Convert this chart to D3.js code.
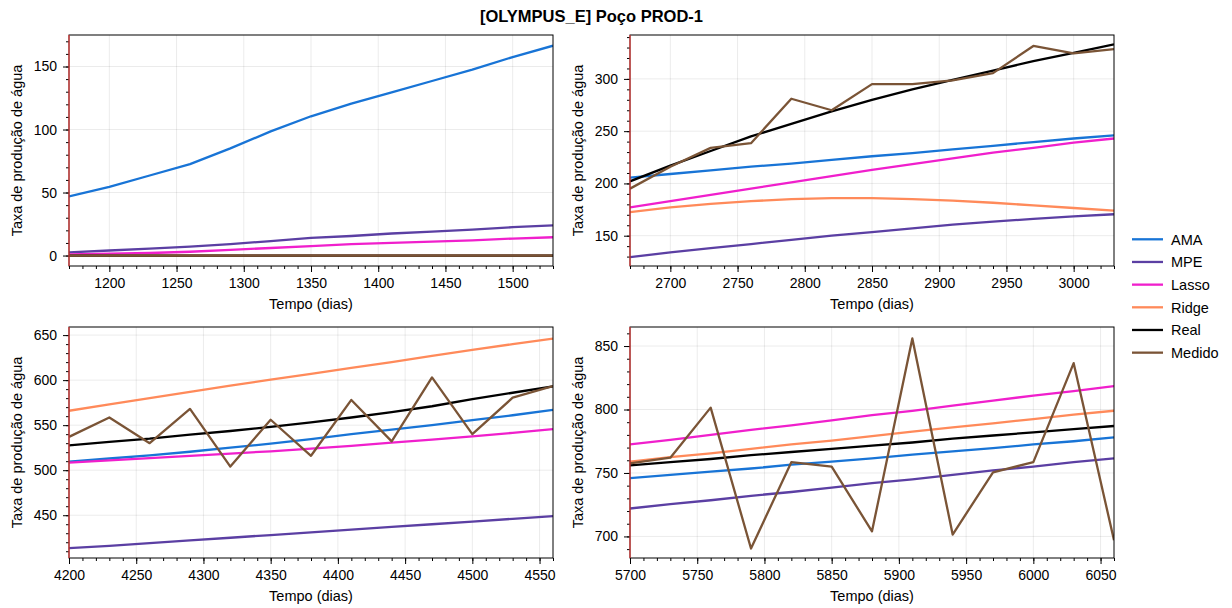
<!DOCTYPE html>
<html>
<head>
<meta charset="utf-8">
<script src="https://cdn.jsdelivr.net/npm/d3@7"></script>
<style>
  body { margin: 0; background: #fff; }
  svg { font-family: "Liberation Sans", Arial, Helvetica, sans-serif; }
</style>
</head>
<body>
<div id="chart"></div>
<script>
// series
const seriesNames = ["AMA", "MPE", "Lasso", "Ridge", "Real", "Medido"];
const seriesColors = ["#1874d6", "#5b3fa3", "#f01fcc", "#ff8a5a", "#000000", "#7a5436"];

// panel 1
const days1 = [1170, 1200, 1230, 1260, 1290, 1320, 1350, 1380, 1410, 1440, 1470, 1500, 1530];
const ama1 = [47, 54.5, 63.5, 72.5, 85, 98.5, 110.5, 120.5, 129.5, 138.5, 147.5, 157.5, 166.5];
const mpe1 = [2.5, 4, 5.5, 7, 9, 11.5, 14, 15.5, 17.5, 19, 20.5, 22.5, 24];
const lasso1 = [1, 1.5, 2, 3, 4.5, 6, 7.5, 9, 10, 11, 12, 13.5, 14.5];
const ridge1 = [0, 0, 0, 0, 0, 0, 0, 0, 0, 0, 0, 0, 0];
const real1 = [0, 0, 0, 0, 0, 0, 0, 0, 0, 0, 0, 0, 0];
const medido1 = [0, 0, 0, 0, 0, 0, 0, 0, 0, 0, 0, 0, 0];
const xTicks1 = [1200, 1250, 1300, 1350, 1400, 1450, 1500];
const yTicks1 = [0, 50, 100, 150];

// panel 2
const days2 = [2670, 2700, 2730, 2760, 2790, 2820, 2850, 2880, 2910, 2940, 2970, 3000, 3030];
const ama2 = [205.5, 209, 212.5, 216, 219, 222.5, 226, 229, 232.5, 236, 239.5, 243, 246];
const mpe2 = [129.5, 134, 138, 142, 146, 150, 153.5, 157, 160.5, 163.5, 166, 168.5, 170.5];
const lasso2 = [177, 183, 189, 195, 201, 207, 213, 218.5, 224, 229.5, 234, 239, 243];
const ridge2 = [172.5, 177, 180.5, 183, 185, 186, 186, 185, 183.5, 181.5, 179, 176.5, 174];
const real2 = [202, 217, 231, 245, 257, 269, 280, 290, 299, 308, 317, 325, 333];
const medido2 = [195, 216, 234, 238.5, 281, 270, 295, 295, 298.5, 305.5, 331.5, 324.5, 328.5];
const xTicks2 = [2700, 2750, 2800, 2850, 2900, 2950, 3000];
const yTicks2 = [150, 200, 250, 300];

// panel 3
const days3 = [4200, 4230, 4260, 4290, 4320, 4350, 4380, 4410, 4440, 4470, 4500, 4530, 4560];
const ama3 = [509.5, 513, 516.5, 520.5, 525, 529.5, 534.5, 540, 545, 550, 555.5, 561, 567];
const mpe3 = [413.5, 416, 419, 422, 425, 428, 431, 434, 437, 440, 443, 446, 449];
const lasso3 = [508.5, 511, 513.5, 516, 518.5, 521, 524, 527, 530.5, 534, 537.5, 541.5, 545.5];
const ridge3 = [566, 573, 580, 587, 594, 600.5, 607, 613.5, 620, 627, 633.5, 640, 646];
const real3 = [527.5, 531.5, 535, 539.5, 543.5, 548, 553, 558.5, 564.5, 571, 579, 586, 593];
const medido3 = [537, 558.5, 530, 568, 504, 556, 516, 578, 532, 603, 540, 580.5, 593.5];
const xTicks3 = [4200, 4250, 4300, 4350, 4400, 4450, 4500, 4550];
const yTicks3 = [450, 500, 550, 600, 650];

// panel 4
const days4 = [5700, 5730, 5760, 5790, 5820, 5850, 5880, 5910, 5940, 5970, 6000, 6030, 6060];
const ama4 = [746, 748.5, 751, 753.5, 756.5, 759, 761.5, 764.5, 767, 769.5, 772.5, 775, 778];
const mpe4 = [722, 725.5, 728.5, 732, 735, 738.5, 742, 745, 748.5, 752, 755, 758.5, 761.5];
const lasso4 = [772.5, 776, 780, 784, 787.5, 791.5, 795.5, 799, 803, 807, 811, 814.5, 818.5];
const ridge4 = [759, 762.5, 765.5, 769, 772.5, 775.5, 779, 782.5, 786, 789, 792.5, 796, 799];
const real4 = [756, 758.5, 761, 764, 766.5, 769, 771.5, 774, 777, 779.5, 782, 784.5, 787];
const medido4 = [757.5, 762, 801.5, 690.5, 758.5, 755, 704, 856, 701.5, 750.5, 758.5, 836.5, 697];
const xTicks4 = [5700, 5750, 5800, 5850, 5900, 5950, 6000, 6050];
const yTicks4 = [700, 750, 800, 850];

const titleText = "[OLYMPUS_E] Poço PROD-1";
const xLabel = "Tempo (dias)";
const yLabel = "Taxa de produção de água";

const settings = {
  width: 1232,
  height: 608,
  panelW: 484,
  panelH: 231,
  cols: [69, 630],
  rows: [35, 327],
  fontSize: 14,
  labelSize: 14.5,
  lineWidth: 2.3,
};

const panels = [
  { days: days1, values: [ama1, mpe1, lasso1, ridge1, real1, medido1], xDomain: [1170, 1530], yDomain: [-8.3, 175], xTicks: xTicks1, yTicks: yTicks1 },
  { days: days2, values: [ama2, mpe2, lasso2, ridge2, real2, medido2], xDomain: [2670, 3030], yDomain: [121, 342], xTicks: xTicks2, yTicks: yTicks2 },
  { days: days3, values: [ama3, mpe3, lasso3, ridge3, real3, medido3], xDomain: [4200, 4560], yDomain: [402.5, 659], xTicks: xTicks3, yTicks: yTicks3 },
  { days: days4, values: [ama4, mpe4, lasso4, ridge4, real4, medido4], xDomain: [5700, 6060], yDomain: [683, 865], xTicks: xTicks4, yTicks: yTicks4 },
];

const svg = d3.select("#chart")
  .append("svg")
  .attr("width", settings.width)
  .attr("height", settings.height);

const defs = svg.append("defs");

panels.forEach((p, k) => {
  const left = settings.cols[k % 2];
  const top = settings.rows[Math.floor(k / 2)];
  const w = settings.panelW;
  const h = settings.panelH;

  const x = d3.scaleLinear().domain(p.xDomain).range([0, w]);
  const y = d3.scaleLinear().domain(p.yDomain).range([h, 0]);

  const g = svg.append("g").attr("transform", `translate(${left},${top})`);

  defs.append("clipPath").attr("id", "clip" + k)
    .append("rect").attr("width", w).attr("height", h);

  // grid
  g.append("g").selectAll("line").data(p.xTicks).enter().append("line")
    .attr("x1", d => x(d)).attr("x2", d => x(d))
    .attr("y1", 0).attr("y2", h)
    .attr("stroke", "#000").attr("stroke-opacity", 0.1).attr("stroke-width", 0.8);
  g.append("g").selectAll("line").data(p.yTicks).enter().append("line")
    .attr("x1", 0).attr("x2", w)
    .attr("y1", d => y(d)).attr("y2", d => y(d))
    .attr("stroke", "#000").attr("stroke-opacity", 0.1).attr("stroke-width", 0.8);

  // series lines
  const line = d3.line()
    .x((d, i) => x(p.days[i]))
    .y(d => y(d));
  g.append("g").attr("clip-path", `url(#clip${k})`)
    .selectAll("path").data(p.values).enter().append("path")
    .attr("d", d => line(d))
    .attr("fill", "none")
    .attr("stroke", (d, i) => seriesColors[i])
    .attr("stroke-width", settings.lineWidth)
    .attr("stroke-linejoin", "round");

  // minor ticks
  const xMinor = d3.range(Math.ceil(p.xDomain[0] / 10) * 10, p.xDomain[1] + 0.1, 10);
  const yMinor = d3.range(Math.ceil(p.yDomain[0] / 10) * 10, p.yDomain[1] + 0.1, 10);
  g.append("g").attr("transform", `translate(0,${h})`)
    .call(d3.axisBottom(x).tickValues(xMinor).tickSize(3).tickSizeOuter(0).tickFormat(""))
    .call(a => a.select(".domain").remove())
    .selectAll("line").attr("stroke", "#000");
  g.append("g")
    .call(d3.axisLeft(y).tickValues(yMinor).tickSize(3).tickSizeOuter(0).tickFormat(""))
    .call(a => a.select(".domain").remove())
    .selectAll("line").attr("stroke", "#000");

  // major axes
  const xAxis = g.append("g").attr("transform", `translate(0,${h})`)
    .call(d3.axisBottom(x).tickValues(p.xTicks).tickSize(6).tickPadding(6).tickSizeOuter(0).tickFormat(d3.format("d")))
    .call(a => a.select(".domain").remove());
  const yAxis = g.append("g")
    .call(d3.axisLeft(y).tickValues(p.yTicks).tickSize(6).tickPadding(6).tickSizeOuter(0).tickFormat(d3.format("d")))
    .call(a => a.select(".domain").remove());
  [xAxis, yAxis].forEach(a => {
    a.selectAll("line").attr("stroke", "#000");
    a.selectAll("text")
      .attr("font-size", settings.fontSize)
      .attr("font-family", null)
      .attr("fill", "#000");
  });

  // spines
  g.append("rect")
    .attr("width", w).attr("height", h)
    .attr("fill", "none").attr("stroke", "#000").attr("stroke-width", 1);

  // red marker on the left edge
  g.append("line")
    .attr("x1", x(p.xDomain[0])).attr("x2", x(p.xDomain[0]))
    .attr("y1", 0).attr("y2", h)
    .attr("stroke", "#e8403f").attr("stroke-width", 1.2);

  // axis titles
  g.append("text")
    .attr("x", w / 2)
    .attr("y", h + 43)
    .attr("text-anchor", "middle")
    .attr("font-size", settings.labelSize)
    .text(xLabel);
  g.append("text")
    .attr("transform", `translate(-47,${h / 2}) rotate(-90)`)
    .attr("text-anchor", "middle")
    .attr("font-size", settings.labelSize)
    .text(yLabel);
});

// title
svg.append("text")
  .attr("x", (settings.cols[0] + settings.cols[1] + settings.panelW) / 2)
  .attr("y", 22)
  .attr("text-anchor", "middle")
  .attr("font-size", 16.5)
  .attr("font-weight", "bold")
  .text(titleText);

// legend
const legend = svg.append("g").attr("transform", "translate(1132,239.3)");
const items = legend.selectAll("g").data(seriesNames).enter().append("g")
  .attr("transform", (d, i) => `translate(0,${i * 22.67})`);
items.append("line")
  .attr("x1", 0).attr("x2", 31)
  .attr("stroke", (d, i) => seriesColors[i])
  .attr("stroke-width", settings.lineWidth);
items.append("text")
  .attr("x", 39)
  .attr("y", 5.2)
  .attr("font-size", settings.labelSize)
  .text(d => d);
</script>
</body>
</html>
